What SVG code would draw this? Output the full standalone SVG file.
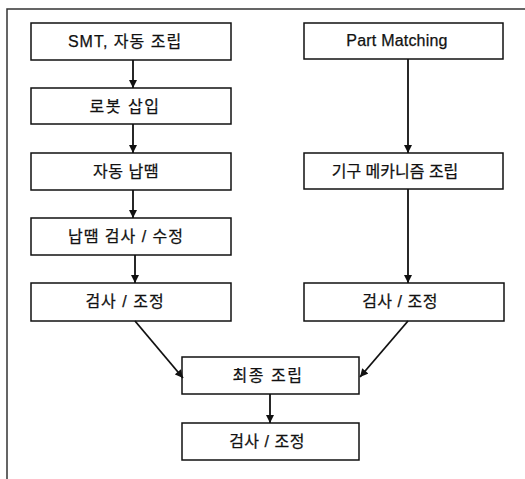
<svg xmlns="http://www.w3.org/2000/svg" width="525" height="479" viewBox="0 0 525 479">
<style>
.box{fill:#fff;stroke:#111;stroke-width:1.5}
.t{font-family:"Liberation Sans","Noto Sans CJK KR",sans-serif;font-size:16px;fill:#111;text-anchor:middle;stroke:#111;stroke-width:0.25}
.c{stroke:#111;stroke-width:1.8;fill:none}
</style>
<defs>
<marker id="ah" viewBox="0 0 10 10" refX="10" refY="5" markerWidth="5" markerHeight="4.5" orient="auto" markerUnits="strokeWidth">
<path d="M0,0 L10,5 L0,10 z" fill="#111"/>
</marker>
</defs>
<rect width="525" height="479" fill="#fff"/>
<polyline points="7,479 7,9 525,9" fill="none" stroke="#333" stroke-width="1.5"/>
<g id="n1"><rect class="box" x="31" y="23" width="200" height="37"/><text class="t" x="125" y="47" letter-spacing="1">SMT, 자동 조립</text></g>
<g id="n2"><rect class="box" x="31" y="88" width="200" height="36"/><text class="t" x="125" y="112" letter-spacing="1.5">로봇 삽입</text></g>
<g id="n3"><rect class="box" x="31" y="153" width="200" height="37"/><text class="t" x="126" y="177" letter-spacing="0.5">자동 납땜</text></g>
<g id="n4"><rect class="box" x="31" y="218" width="200" height="37"/><text class="t" x="126" y="242" letter-spacing="1">납땜 검사 / 수정</text></g>
<g id="n5"><rect class="box" x="31" y="283" width="200" height="38"/><text class="t" x="125" y="307" letter-spacing="1">검사 / 조정</text></g>
<g id="n6"><rect class="box" x="304" y="23" width="199" height="36"/><text class="t" x="397" y="46" letter-spacing="0.2">Part Matching</text></g>
<g id="n7"><rect class="box" x="304" y="153" width="199" height="36"/><text class="t" x="395" y="177" letter-spacing="0">기구 메카니즘 조립</text></g>
<g id="n8"><rect class="box" x="304" y="283" width="200" height="38"/><text class="t" x="400" y="307" letter-spacing="0.5">검사 / 조정</text></g>
<g id="n9"><rect class="box" x="182" y="357" width="177" height="37"/><text class="t" x="268" y="381" letter-spacing="1.5">최종 조립</text></g>
<g id="n10"><rect class="box" x="182" y="423" width="177" height="37"/><text class="t" x="267" y="447" letter-spacing="0.5">검사 / 조정</text></g>
<g id="connectors">
<line class="c" x1="133" y1="60" x2="133" y2="88" marker-end="url(#ah)"/>
<line class="c" x1="133" y1="124" x2="133" y2="153" marker-end="url(#ah)"/>
<line class="c" x1="133" y1="190" x2="133" y2="218" marker-end="url(#ah)"/>
<line class="c" x1="135" y1="255" x2="135" y2="283" marker-end="url(#ah)"/>
<line class="c" x1="408" y1="59" x2="408" y2="153" marker-end="url(#ah)"/>
<line class="c" x1="408" y1="189" x2="408" y2="283" marker-end="url(#ah)"/>
<line class="c" x1="135" y1="321" x2="183" y2="378" marker-end="url(#ah)"/>
<line class="c" x1="408" y1="321" x2="360" y2="377" marker-end="url(#ah)"/>
<line class="c" x1="270" y1="394" x2="270" y2="423" marker-end="url(#ah)"/>
</g>
</svg>
